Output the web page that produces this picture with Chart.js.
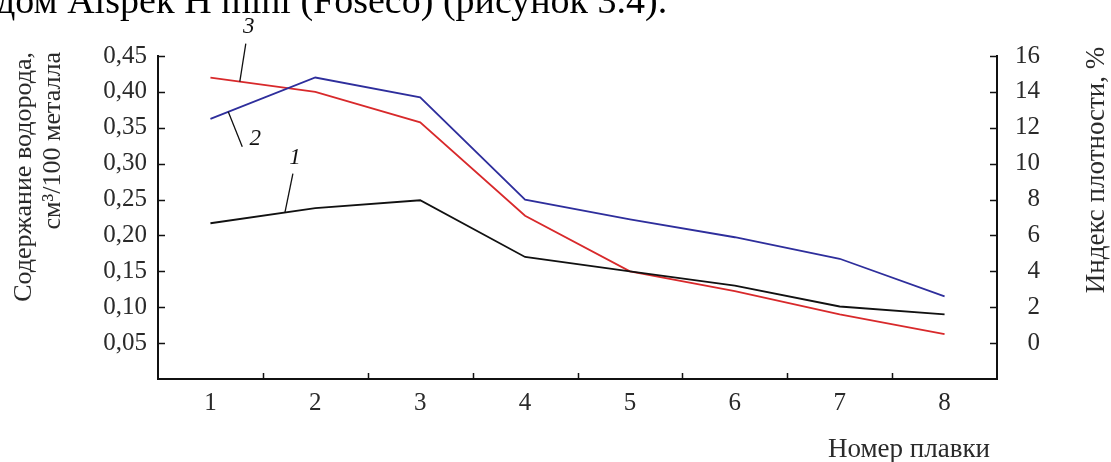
<!DOCTYPE html>
<html>
<head>
<meta charset="utf-8">
<script src="https://cdn.jsdelivr.net/npm/chart.js@4.4.1/dist/chart.umd.min.js"></script>
<style>
  body { margin: 0; background: #fff; }
  #melt-chart { display: block; }
</style>
</head>
<body>
<canvas id="melt-chart" width="1111" height="462"></canvas>
<script>
// plavka numbers on the x axis
const meltNumbers = ['1', '2', '3', '4', '5', '6', '7', '8'];
// curve 1 - hydrogen content, cm3/100 g (left axis)
const curve1Hydrogen = [0.217, 0.238, 0.249, 0.170, 0.150, 0.130, 0.101, 0.090];
// curves 2 and 3 - density index, % (right axis)
const curve2Density = [12.5, 14.8, 13.7, 8.0, 6.9, 5.9, 4.7, 2.6];
const curve3Density = [14.8, 14.0, 12.3, 7.1, 4.0, 2.9, 1.6, 0.5];

const leftTicks = [0.05, 0.10, 0.15, 0.20, 0.25, 0.30, 0.35, 0.40, 0.45];
const rightTicks = [0, 2, 4, 6, 8, 10, 12, 14, 16];

const serif = "'Liberation Serif', 'DejaVu Serif', serif";
const textColor = '#2a2a2a';

// curve number labels: which dataset, where on the segment, leader end, label pos
const curveLabels = [
  { text: '3', ds: 2, frac: 0.28, lx: 6, ly: -38, tx: 9, ty: -55 },
  { text: '2', ds: 1, frac: 0.17, lx: 14, ly: 35, tx: 27, ty: 27 },
  { text: '1', ds: 0, frac: 0.71, lx: 8, ly: -39, tx: 10, ty: -55 }
];

const extrasPlugin = {
  id: 'extras',
  afterDraw(chart) {
    const ctx = chart.ctx;
    const area = chart.chartArea;
    const xs = chart.scales.x;
    const yl = chart.scales.yLeft;
    const yr = chart.scales.yRight;
    ctx.save();

    // inward tick marks
    ctx.strokeStyle = '#111';
    ctx.lineWidth = 1.5;
    ctx.beginPath();
    yl.ticks.forEach((t) => {
      const y = Math.round(yl.getPixelForValue(t.value)) + 0.5;
      ctx.moveTo(area.left, y);
      ctx.lineTo(area.left + 7, y);
    });
    yr.ticks.forEach((t) => {
      const y = Math.round(yr.getPixelForValue(t.value)) + 0.5;
      ctx.moveTo(area.right - 7, y);
      ctx.lineTo(area.right, y);
    });
    for (let i = 1; i < meltNumbers.length; i++) {
      const x = Math.round((xs.getPixelForValue(i - 1) + xs.getPixelForValue(i)) / 2) + 0.5;
      ctx.moveTo(x, area.bottom);
      ctx.lineTo(x, area.bottom - 6);
    }
    ctx.stroke();

    // curve number labels with leader lines
    curveLabels.forEach((c) => {
      const pts = chart.getDatasetMeta(c.ds).data;
      const ax = pts[0].x + c.frac * (pts[1].x - pts[0].x);
      const ay = pts[0].y + c.frac * (pts[1].y - pts[0].y);
      ctx.strokeStyle = '#111';
      ctx.lineWidth = 1.3;
      ctx.beginPath();
      ctx.moveTo(ax, ay);
      ctx.lineTo(ax + c.lx, ay + c.ly);
      ctx.stroke();
      ctx.fillStyle = '#111';
      ctx.font = 'italic 23px ' + serif;
      ctx.textAlign = 'center';
      ctx.textBaseline = 'middle';
      ctx.fillText(c.text, ax + c.tx, ay + c.ty);
    });

    // axis titles
    ctx.fillStyle = textColor;
    ctx.font = '26px ' + serif;
    ctx.textBaseline = 'middle';

    ctx.save();
    ctx.translate(24, 52);
    ctx.rotate(-Math.PI / 2);
    ctx.textAlign = 'right';
    ctx.fillText('Содержание водорода,', 0, 0);
    ctx.restore();

    ctx.save();
    ctx.translate(53, 52);
    ctx.rotate(-Math.PI / 2);
    ctx.textAlign = 'right';
    ctx.fillText('см³/100 металла', 0, 0);
    ctx.restore();

    ctx.font = '27px ' + serif;
    ctx.save();
    ctx.translate(1097, 170);
    ctx.rotate(-Math.PI / 2);
    ctx.textAlign = 'center';
    ctx.fillText('Индекс плотности, %', 0, 0);
    ctx.restore();

    ctx.textAlign = 'right';
    ctx.fillText('Номер плавки', 990, 450);

    // cut-off text line above the figure
    ctx.fillStyle = '#000';
    ctx.font = '38px ' + serif;
    ctx.textAlign = 'left';
    ctx.textBaseline = 'alphabetic';
    ctx.fillText('дом Alspek H mini (Foseco) (рисунок 3.4).', -4, 13);

    ctx.restore();
  }
};

const ctx = document.getElementById('melt-chart');

const meltChart = new Chart(ctx, {
  type: 'line',
  data: {
    labels: meltNumbers,
    datasets: [{
      label: '1',
      data: curve1Hydrogen,
      yAxisID: 'yLeft',
      borderColor: '#111111',
      borderWidth: 1.8,
      pointRadius: 0,
      tension: 0
    }, {
      label: '2',
      data: curve2Density,
      yAxisID: 'yRight',
      borderColor: '#2e2e9c',
      borderWidth: 1.8,
      pointRadius: 0,
      tension: 0
    }, {
      label: '3',
      data: curve3Density,
      yAxisID: 'yRight',
      borderColor: '#d8292b',
      borderWidth: 1.8,
      pointRadius: 0,
      tension: 0
    }]
  },
  options: {
    responsive: false,
    animation: false,
    events: [],
    layout: {
      padding: { top: 56, left: 0, right: 71, bottom: 0 }
    },
    plugins: {
      legend: { display: false },
      tooltip: { enabled: false }
    },
    scales: {
      x: {
        offset: true,
        grid: { display: false, drawTicks: false },
        border: { display: true, color: '#111', width: 2 },
        ticks: {
          color: textColor,
          font: { family: serif, size: 25 },
          padding: 9,
          maxRotation: 0
        },
        afterFit(scale) { scale.height = 83; }
      },
      yLeft: {
        position: 'left',
        min: 0,
        max: 0.45,
        grid: { display: false, drawTicks: false },
        border: { display: true, color: '#111', width: 2 },
        afterBuildTicks(scale) {
          scale.ticks = leftTicks.map((v) => ({ value: v }));
        },
        ticks: {
          color: textColor,
          font: { family: serif, size: 25 },
          padding: 11,
          callback: (v) => Number(v).toFixed(2).replace('.', ',')
        },
        afterFit(scale) { scale.width = 158; }
      },
      yRight: {
        position: 'right',
        min: -2,
        max: 16,
        grid: { display: false, drawTicks: false },
        border: { display: true, color: '#111', width: 2 },
        afterBuildTicks(scale) {
          scale.ticks = rightTicks.map((v) => ({ value: v }));
        },
        ticks: {
          color: textColor,
          font: { family: serif, size: 25 },
          crossAlign: 'far',
          callback: (v) => String(v)
        },
        afterFit(scale) { scale.width = 43; }
      }
    }
  },
  plugins: [extrasPlugin]
});
</script>
</body>
</html>
